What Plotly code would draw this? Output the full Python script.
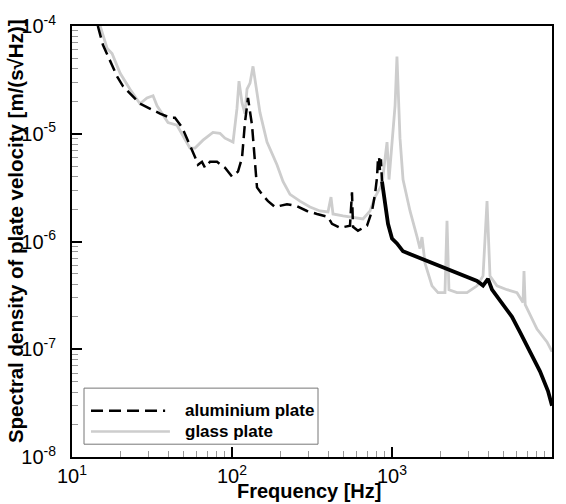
import plotly.graph_objects as go

# ---- data (frequency in Hz, spectral density in m/(s*sqrt(Hz))) ----
alu_freq = [14.5, 15.6, 19.1, 20.8, 26.6, 30.7, 35.5, 41.0, 44.0, 48.7, 53.1, 56.2, 58.7, 61.3,
            64.9, 67.8, 72.9, 80.6, 90.4, 100, 109, 115.5, 120.5, 125.9, 133.4, 139.2, 143.3, 154,
            167.9, 185.6, 220.6, 254.8, 294.2, 339.8, 398, 421.7, 473.2, 546.4, 562.3, 570.4, 613,
            698, 750, 783, 806, 818, 830, 841, 853, 866, 904, 944, 1000, 1074, 1172, 1496, 1910,
            2548, 3399, 3707, 3981, 4217, 4943, 5623, 6310, 7291, 8414, 9441, 10000]
alu_psd = [1.0e-4, 6.7e-5, 3.42e-5, 2.77e-5, 1.90e-5, 1.71e-5, 1.54e-5, 1.41e-5, 1.41e-5, 1.15e-5,
           8.36e-6, 7.07e-6, 6.1e-6, 5.16e-6, 5.49e-6, 4.84e-6, 5.49e-6, 5.49e-6, 4.84e-6, 4.01e-6,
           4.45e-6, 5.97e-6, 1.27e-5, 2.15e-5, 1.20e-5, 4.84e-6, 3.18e-6, 2.74e-6, 2.37e-6, 2.09e-6,
           2.22e-6, 2.13e-6, 1.92e-6, 1.80e-6, 1.69e-6, 1.46e-6, 1.34e-6, 1.40e-6, 2.86e-6, 1.37e-6,
           1.26e-6, 1.40e-6, 1.92e-6, 2.74e-6, 3.92e-6, 5.97e-6, 6.1e-6, 4.6e-6, 5.8e-6, 3.61e-6,
           2.22e-6, 1.46e-6, 1.065e-6, 9.59e-7, 8.11e-7, 6.99e-7, 6.04e-7, 5.10e-7, 4.31e-7, 3.9e-7,
           4.5e-7, 3.57e-7, 2.6e-7, 2.0e-7, 1.445e-7, 9.49e-8, 6.23e-8, 4.09e-8, 2.99e-8]

glass_freq = [15.0, 16.6, 17.8, 20.0, 23.0, 26.6, 29.4, 32.1, 34.0, 37.0, 39.8, 45.3, 49.4, 54.6,
              58.7, 65.9, 76.0, 84.1, 90.4, 101.5, 107.4, 110.6, 115.5, 120.5, 124.1, 129.6, 135.3,
              141.3, 149.6, 165.5, 191, 208.3, 230.4, 266, 307.3, 354.8, 398, 415.6, 427.8, 494.2,
              562.3, 659, 729, 783, 866, 931, 958, 1045, 1074, 1122, 1172, 1296, 1433, 1496, 1540,
              1608, 1778, 1939, 2143, 2207, 2270, 2548, 2943, 3399, 3707, 3926, 4097, 4530, 5236,
              6043, 6590, 6683, 6800, 8058, 9304, 10000]
glass_psd = [1.0e-4, 6.17e-5, 5.55e-5, 3.64e-5, 2.60e-5, 1.90e-5, 2.15e-5, 2.25e-5, 1.82e-5, 1.48e-5,
             1.27e-5, 1.20e-5, 9.69e-6, 7.37e-6, 7.37e-6, 8.72e-6, 1.03e-5, 1.01e-5, 9.10e-6, 8.36e-6,
             1.71e-5, 3.08e-5, 1.94e-5, 1.54e-5, 2.60e-5, 2.95e-5, 4.22e-5, 2.77e-5, 1.57e-5, 8.36e-6,
             5.16e-6, 3.61e-6, 2.74e-6, 2.37e-6, 2.09e-6, 1.92e-6, 1.88e-6, 2.58e-6, 1.80e-6, 1.73e-6,
             1.69e-6, 1.62e-6, 1.92e-6, 2.58e-6, 3.39e-6, 8.36e-6, 3.76e-6, 1.82e-5, 5.21e-5, 9.1e-6,
             3.76e-6, 1.92e-6, 1.11e-6, 8.6e-7, 1.1e-6, 6.30e-7, 3.88e-7, 3.35e-7, 3.35e-7, 1.555e-6,
             3.57e-7, 3.35e-7, 3.35e-7, 3.88e-7, 4.79e-7, 2.37e-6, 4.79e-7, 3.88e-7, 3.57e-7, 3.35e-7,
             2.72e-7, 5.32e-7, 2.6e-7, 1.54e-7, 1.17e-7, 9.49e-8]

x_decades = [1, 2, 3, 4]
y_decades = [-8, -7, -6, -5, -4]

legend_labels = ["aluminium plate", "glass plate"]
x_title = "Frequency [Hz]"
y_title = "Spectral density of plate velocity [m/(s√Hz)]"

assert len(alu_freq) == len(alu_psd) and len(glass_freq) == len(glass_psd)

FONT = "Liberation Sans, Arial, sans-serif"
BLACK = "#000000"
GRAY = "#cdcdcd"
MINOR_GRAY = "#999999"
DASH = "12px,6px"
NO_GRID = "rgba(0,0,0,0)"


def sup_label(e, pad=""):
    return "10<sup>%d</sup>%s" % (e, pad)


# aluminium: dashed at low frequency, dense (visually solid) at high frequency
split_f = 866
alu_lo = [(f, v) for f, v in zip(alu_freq, alu_psd) if f <= split_f]
alu_hi = [(f, v) for f, v in zip(alu_freq, alu_psd) if f >= split_f]

fig = go.Figure()
fig.add_trace(go.Scatter(x=glass_freq, y=glass_psd, mode="lines", name=legend_labels[1],
                         line=dict(color=GRAY, width=2.8), showlegend=False))
fig.add_trace(go.Scatter(x=[p[0] for p in alu_lo], y=[p[1] for p in alu_lo], mode="lines",
                         name=legend_labels[0], line=dict(color=BLACK, width=2.5, dash=DASH),
                         showlegend=False))
fig.add_trace(go.Scatter(x=[p[0] for p in alu_hi], y=[p[1] for p in alu_hi], mode="lines",
                         name=legend_labels[0], line=dict(color=BLACK, width=3.8), showlegend=False))

fig.update_layout(
    xaxis=dict(
        type="log", range=[x_decades[0], x_decades[-1]],
        ticks="inside", ticklen=10, tickwidth=2, tickcolor=BLACK,
        tickmode="array", tickvals=[10.0 ** d for d in x_decades],
        ticktext=[sup_label(d) for d in x_decades],
        tickfont=dict(family=FONT, size=20, color=BLACK),
        showline=True, linecolor=BLACK, linewidth=2, mirror=True,
        gridcolor=NO_GRID,
        minor=dict(ticks="inside", ticklen=6, tickwidth=1, tickcolor=MINOR_GRAY, dtick="D1",
                   gridcolor=NO_GRID),
    ),
    yaxis=dict(
        type="log", range=[y_decades[0], y_decades[-1]],
        ticks="inside", ticklen=10, tickwidth=2, tickcolor=BLACK,
        tickmode="array", tickvals=[10.0 ** d for d in y_decades],
        ticktext=[sup_label(d, "\u2002") for d in y_decades],
        tickfont=dict(family=FONT, size=20, color=BLACK),
        showline=True, linecolor=BLACK, linewidth=2, mirror=True,
        gridcolor=NO_GRID,
        minor=dict(ticks="inside", ticklen=6, tickwidth=1, tickcolor=MINOR_GRAY, dtick="D1",
                   gridcolor=NO_GRID),
    ),
)

# legend drawn as a framed box with sample lines (paper coordinates)
shapes = [
    dict(type="rect", xref="paper", yref="paper", x0=0.025, x1=0.5125, y0=0.0297, y1=0.1598,
         line=dict(color="#777777", width=1), fillcolor="white", layer="above"),
    dict(type="line", xref="paper", yref="paper", x0=0.0396, x1=0.194, y0=0.1073, y1=0.1073,
         line=dict(color=BLACK, width=2.5, dash=DASH), layer="above"),
    dict(type="line", xref="paper", yref="paper", x0=0.0396, x1=0.204, y0=0.0594, y1=0.0594,
         line=dict(color=GRAY, width=2.5), layer="above"),
]
annotations = [
    dict(text="<b>%s</b>" % legend_labels[0], xref="paper", yref="paper", x=0.231, y=0.1073,
         xanchor="left", yanchor="middle", showarrow=False, font=dict(family=FONT, size=17, color=BLACK)),
    dict(text="<b>%s</b>" % legend_labels[1], xref="paper", yref="paper", x=0.231, y=0.0594,
         xanchor="left", yanchor="middle", showarrow=False, font=dict(family=FONT, size=17, color=BLACK)),
    dict(text="<b>%s</b>" % x_title, xref="paper", yref="paper", x=0.494, y=-0.079,
         xanchor="center", yanchor="middle", showarrow=False, font=dict(family=FONT, size=20, color=BLACK)),
    dict(text="<b>%s</b>" % y_title, xref="paper", yref="paper", x=-0.118, y=0.525,
         xanchor="center", yanchor="middle", textangle=-90, showarrow=False,
         font=dict(family=FONT, size=20.5, color=BLACK)),
]

fig.update_layout(
    width=566, height=504,
    margin=dict(l=72, r=14, t=19, b=47),
    plot_bgcolor="white",
    showlegend=False,
    shapes=shapes, annotations=annotations,
)

fig.write_html("out.html")
